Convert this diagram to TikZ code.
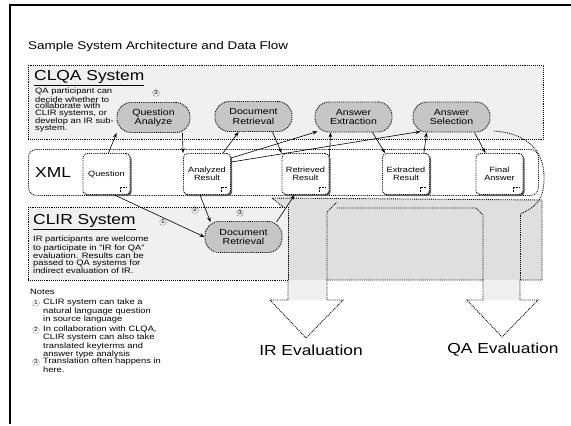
\documentclass[tikz,border=0pt]{standalone}
\usepackage{fontspec}
\setmainfont[FakeStretch=1.2]{Liberation Sans}
\usetikzlibrary{shadows,arrows.meta,calc}
\begin{document}
\begin{tikzpicture}[x=1pt,y=-1pt,
  dotline/.style={densely dotted, line width=0.9pt},
  pill/.style={draw, dotline, fill=gray!45, rounded corners=14pt,
    minimum width=77pt, minimum height=30pt, inner sep=0pt, align=center,
    font=\fontsize{8.8}{9.4}\selectfont},
  resbox/.style={draw, dotline, fill=white, rounded corners=4pt,
    minimum width=47pt, minimum height=41pt, inner sep=0pt, align=center,
    font=\fontsize{7.6}{8.4}\selectfont,
    copy shadow={shadow xshift=1.6pt, shadow yshift=-1.6pt, fill=gray!75!black, draw=none}},
  flow/.style={-{Stealth[length=5pt,width=3.6pt]}, line width=0.6pt},
  numtag/.style={circle, draw, densely dotted, line width=0.4pt, inner sep=0.5pt,
    font=\fontsize{5.5}{6}\selectfont},
  smalltext/.style={align=left, inner sep=0pt, anchor=north west,
    font=\fontsize{7.8}{6.8}\selectfont},
  notetext/.style={align=left, inner sep=0pt, anchor=north west,
    font=\fontsize{7.8}{7}\selectfont},
  bigtitle/.style={anchor=west, inner sep=0pt, font=\fontsize{14.5}{15}\selectfont},
]
% page and frame
\fill[white] (0,0) rectangle (571,426);
\useasboundingbox (0,0) rectangle (571,426);
\draw[line width=1.3pt] (10,424) -- (10,5) -- (571,5);

\node[anchor=west, inner sep=0pt, font=\fontsize{11.2}{12}\selectfont] (title) at (28,47)
  {Sample System Architecture and Data Flow};

% ---------- CLQA layer ----------
\node[draw, dotline, fill=gray!12, minimum width=515pt, minimum height=74pt,
  inner sep=0pt, anchor=north west] (clqa) at (28,65) {};
\node[bigtitle] (clqatitle) at (34,78) {\underline{CLQA System}};
\node[smalltext] (clqadesc) at (35,88)
  {QA participant can\\decide whether to\\collaborate with\\CLIR systems, or\\develop an IR sub-\\system.};

\node[pill, minimum width=73pt] (qa) at (153.5,117.5) {Question\\Analyze};
\node[pill] (dr) at (253.5,116.5) {Document\\Retrieval};
\node[pill] (ae) at (353.5,117) {Answer\\Extraction};
\node[pill] (as) at (451.5,117) {Answer\\Selection};
\node[numtag] (t3a) at (156,93) {3};

% ---------- evaluation arrows ----------
% outline of the two downward block arrows joined by a band
\def\evalpath{(272,198) -- (283,207) -- (288,212) -- (288,300) -- (270,300) -- (306,338)
  -- (343,300) -- (327,300) -- (327,280) -- (483,280) -- (483,300) -- (467,300)
  -- (502,337) -- (538,300) -- (520,300) -- (520,280) -- (542,280) -- (542,200)
  -- cycle}
\fill[white] \evalpath;
% shaded band above the arrow heads
\fill[gray!25] (272,198) -- (283,207) -- (288,212) -- (288,280) -- (542,280) -- (542,200) -- cycle;
\fill[gray!12] (288,280) rectangle (327,300);
\fill[gray!12] (483,280) rectangle (520,300);
\draw[dotline] \evalpath;
\draw[dotline] (327,280) -- (327,212) -- (337,202);
\draw[dotline] (483,280) -- (483,215) -- (476,208) -- (337,208);
\draw[dotline] (520,280) -- (520,214);
% outer edge of the turn round the final answer
\draw[dotline] (494,131) .. controls (536,134) and (548,160) .. (543,190)
  .. controls (540,204) and (530,210) .. (520,214);
\node[bigtitle, anchor=center] (ireval) at (311,350) {IR Evaluation};
\node[bigtitle, anchor=center] (qaeval) at (503,350) {QA Evaluation};

% ---------- XML layer ----------
\node[draw, dotline, fill=white, rounded corners=8pt, minimum width=510pt,
  minimum height=46pt, inner sep=0pt, anchor=north west] (xml) at (28,149) {};
\node[bigtitle] (xmltitle) at (35,173) {XML};

\node[resbox] (q) at (106.5,174) {Question};
\node[resbox] (ar) at (207,174) {Analyzed\\Result};
\node[resbox] (rr) at (305.5,174) {Retrieved\\Result};
\node[resbox] (er) at (406,174) {Extracted\\Result};
\node[resbox] (fa) at (499.5,174) {Final\\Answer};
\foreach \b in {q,ar,rr,er,fa}{
  \draw[densely dotted, line width=0.5pt]
    ($(\b.south east)+(-10,-3)$) -- ($(\b.south east)+(-10,-8)$) -- ($(\b.south east)+(-3,-8)$);
}

% ---------- CLIR layer ----------
\node[draw, dotline, fill=gray!12, minimum width=260pt, minimum height=73pt,
  inner sep=0pt, anchor=north west] (clir) at (28,207) {};
\node[bigtitle] (clirtitle) at (33,222) {\underline{CLIR System}};
\node[smalltext, font=\fontsize{7.8}{7}\selectfont] (clirdesc) at (33,236)
  {IR participants are welcome\\to participate in "IR for QA"\\evaluation. Results can be\\passed to QA systems for\\indirect evaluation of IR.};
\node[pill, minimum height=31pt] (cdr) at (243.5,237) {Document\\Retrieval};

% ---------- data flow ----------
\draw[flow] (q.north) ++(2,0) coordinate (q1) -- (qa.south west);
\draw[flow] (qa.south east) ++(-8,0) coordinate (qa1) -- (ar.north west);
\draw[flow] (ar.north) ++(16,0) coordinate (ar1) -- ($(dr.south west)+(24,0)$);
\draw[flow] ($(dr.south east)+(-20,0)$) -- (rr.north west);
\draw[flow] (ar.north east) ++(0,5) coordinate (ar2) -- ($(ae.south west)+(3,-1)$);
\draw[flow] (ar.north east) ++(0,9) coordinate (ar3) -- ($(as.south west)+(8,-1)$);
\draw[flow] (rr.north east) ++(0,3) coordinate (rr1) -- ($(ae.south west)+(16,0)$);
\draw[flow] ($(ae.south)+(19,0)$) -- ($(er.north west)+(3,0)$);
\draw[flow] ($(er.north east)+(-6,0)$) -- ($(as.south west)+(14,0)$);
\draw[flow] ($(as.south east)+(-16,0)$) -- ($(fa.north west)+(10,0)$);

\draw[flow] ($(q.south east)+(-16,0)$) -- (cdr.west);
\draw[flow] ($(ar.south)+(-7,0)$) -- ($(cdr.north west)+(6,1)$);
\draw[flow] ($(cdr.north east)+(-6,1)$) -- ($(rr.south west)+(13,0)$);
\node[numtag] (t1) at (163,222) {1};
\node[numtag] (t2) at (195,210) {2};
\node[numtag] (t3b) at (240,213) {3};

% ---------- notes ----------
\node[anchor=west, inner sep=0pt, font=\fontsize{7.8}{8}\selectfont] (notes) at (30,292) {Notes};
\node[numtag] (n1) at (36,303) {1};
\node[notetext] (n1t) at (43,299)
  {CLIR system can take a\\natural language question\\in source language};
\node[numtag] (n2) at (36,330) {2};
\node[notetext] (n2t) at (43,326)
  {In collaboration with CLQA,\\CLIR system can also take\\translated keyterms and\\answer type analysis};
\node[numtag] (n3) at (36,362) {3};
\node[notetext] (n3t) at (43,358)
  {Translation often happens in\\here.};
\end{tikzpicture}
\end{document}
